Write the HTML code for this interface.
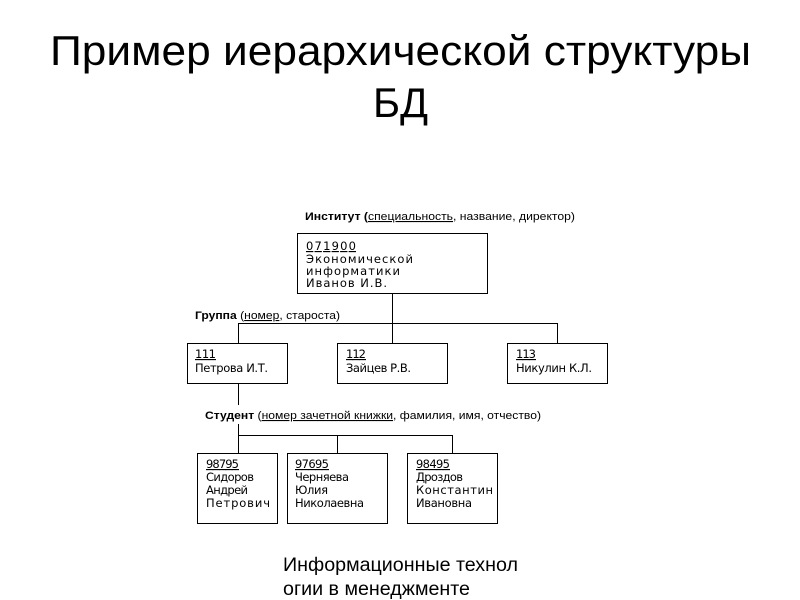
<!DOCTYPE html>
<html>
<head>
<meta charset="utf-8">
<style>
  html, body { margin: 0; padding: 0; background: #fff; }
  svg { display: block; }
  .t { font-family: "Liberation Sans Narrow", "Liberation Sans", "DejaVu Sans", sans-serif; fill: #000; }
  .l { font-family: "Liberation Sans", "DejaVu Sans", sans-serif; font-size: 11px; fill: #000; }
  .b { font-family: "DejaVu Sans", "Liberation Sans", sans-serif; font-size: 11.5px; fill: #000; }
  .u { text-decoration: underline; }
  .bold { font-weight: bold; }
  .f { font-family: "Liberation Sans", "DejaVu Sans", sans-serif; font-size: 19px; fill: #000; }
</style>
</head>
<body>
<svg width="800" height="600" viewBox="0 0 800 600" xmlns="http://www.w3.org/2000/svg">
  <rect x="0" y="0" width="800" height="600" fill="#fff"/>

  <!-- Title -->
  <text class="t" x="50" y="65" font-size="42" textLength="701" lengthAdjust="spacingAndGlyphs">Пример иерархической структуры</text>
  <text class="t" x="373" y="117" font-size="42" textLength="55" lengthAdjust="spacingAndGlyphs">БД</text>

  <!-- Connectors -->
  <g stroke="#000" stroke-width="1" fill="none">
    <line x1="392.5" y1="293" x2="392.5" y2="343"/>
    <line x1="238" y1="323.5" x2="558" y2="323.5"/>
    <line x1="238.5" y1="323" x2="238.5" y2="343"/>
    <line x1="557.5" y1="323" x2="557.5" y2="343"/>
    <line x1="238.5" y1="383" x2="238.5" y2="405"/>
    <line x1="238.5" y1="424" x2="238.5" y2="453"/>
    <line x1="238" y1="435.5" x2="453" y2="435.5"/>
    <line x1="337.5" y1="435" x2="337.5" y2="453"/>
    <line x1="452.5" y1="435" x2="452.5" y2="453"/>

    <!-- Boxes -->
    <rect x="297.5" y="233.5" width="190" height="60"/>
    <rect x="187.5" y="343.5" width="100" height="40"/>
    <rect x="337.5" y="343.5" width="110" height="40"/>
    <rect x="507.5" y="343.5" width="100" height="40"/>
    <rect x="197.5" y="453.5" width="80" height="70"/>
    <rect x="287.5" y="453.5" width="100" height="70"/>
    <rect x="407.5" y="453.5" width="90" height="70"/>
  </g>

  <!-- Labels -->
  <text class="l" x="305" y="220" textLength="270" lengthAdjust="spacingAndGlyphs"><tspan class="bold">Институт (</tspan><tspan class="u">специальность</tspan>, название, директор)</text>
  <text class="l" x="195" y="319" textLength="145" lengthAdjust="spacingAndGlyphs"><tspan class="bold">Группа</tspan> (<tspan class="u">номер</tspan>, староста)</text>
  <text class="l" x="205" y="419" textLength="336" lengthAdjust="spacingAndGlyphs"><tspan class="bold">Студент</tspan> (<tspan class="u">номер зачетной книжки</tspan>, фамилия, имя, отчество)</text>

  <!-- Institute box text -->
  <text class="b u" x="306" y="250" textLength="50" lengthAdjust="spacing">071900</text>
  <text class="b" x="306" y="263" textLength="107" lengthAdjust="spacing">Экономической</text>
  <text class="b" x="306" y="275" textLength="94" lengthAdjust="spacing">информатики</text>
  <text class="b" x="306" y="287" textLength="81" lengthAdjust="spacing">Иванов И.В.</text>

  <!-- Group boxes text -->
  <text class="b u" x="195" y="358" textLength="21" lengthAdjust="spacing">111</text>
  <text class="b" x="195" y="372" textLength="73" lengthAdjust="spacing">Петрова И.Т.</text>
  <text class="b u" x="346" y="358" textLength="20" lengthAdjust="spacing">112</text>
  <text class="b" x="346" y="372" textLength="65" lengthAdjust="spacing">Зайцев Р.В.</text>
  <text class="b u" x="516" y="358" textLength="20" lengthAdjust="spacing">113</text>
  <text class="b" x="516" y="372" textLength="76" lengthAdjust="spacing">Никулин К.Л.</text>

  <!-- Student boxes text -->
  <text class="b u" x="206" y="468" textLength="33" lengthAdjust="spacing">98795</text>
  <text class="b" x="206" y="481" textLength="48" lengthAdjust="spacing">Сидоров</text>
  <text class="b" x="206" y="494" textLength="42" lengthAdjust="spacing">Андрей</text>
  <text class="b" x="206" y="507" textLength="64" lengthAdjust="spacing">Петрович</text>

  <text class="b u" x="295" y="468" textLength="34" lengthAdjust="spacing">97695</text>
  <text class="b" x="295" y="481" textLength="54" lengthAdjust="spacing">Черняева</text>
  <text class="b" x="295" y="494" textLength="33" lengthAdjust="spacing">Юлия</text>
  <text class="b" x="295" y="507" textLength="69" lengthAdjust="spacing">Николаевна</text>

  <text class="b u" x="416" y="468" textLength="34" lengthAdjust="spacing">98495</text>
  <text class="b" x="416" y="481" textLength="47" lengthAdjust="spacing">Дроздов</text>
  <text class="b" x="416" y="494" textLength="77" lengthAdjust="spacing">Константин</text>
  <text class="b" x="416" y="507" textLength="56" lengthAdjust="spacing">Ивановна</text>

  <!-- Footer -->
  <text class="f" x="283" y="571" textLength="235" lengthAdjust="spacingAndGlyphs">Информационные технол</text>
  <text class="f" x="283" y="595" textLength="187" lengthAdjust="spacingAndGlyphs">огии в менеджменте</text>
</svg>
</body>
</html>
